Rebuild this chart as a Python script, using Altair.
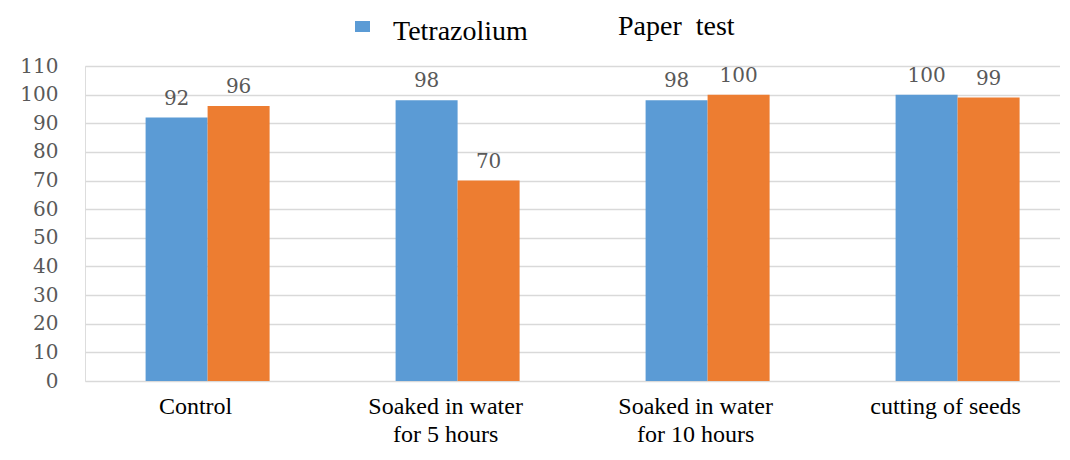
import altair as alt
import pandas as pd

categories = ["Control", "Soaked in water|for 5 hours", "Soaked in water|for 10 hours", "cutting of seeds"]
series = ["Tetrazolium", "Paper test"]
tetrazolium = [92, 98, 98, 100]
paper_test = [96, 70, 100, 99]
colors = ["#5b9bd5", "#ed7d31"]
y_ticks = list(range(0, 111, 10))

rows = []
for c, t, p in zip(categories, tetrazolium, paper_test):
    rows.append({"category": c, "series": series[0], "value": t})
    rows.append({"category": c, "series": series[1], "value": p})
df = pd.DataFrame(rows)

x_enc = alt.X(
    "category:N",
    sort=categories,
    scale=alt.Scale(paddingInner=0.504, paddingOuter=0.202, align=0.6),
    axis=alt.Axis(
        title=None,
        labelExpr="split(datum.label, '|')",
        labelAngle=0,
        labelFont="Liberation Serif",
        labelFontSize=24,
        labelLineHeight=28,
        labelColor="#000000",
        labelPadding=13,
        labelOffset=-12,
        domain=False,
        ticks=False,
        grid=False,
    ),
)
y_enc = alt.Y(
    "value:Q",
    scale=alt.Scale(domain=[0, 110], nice=False),
    axis=alt.Axis(
        title=None,
        values=y_ticks,
        labelFont="DejaVu Serif",
        labelFontSize=20,
        labelColor="#595959",
        labelPadding=27,
        domain=False,
        ticks=False,
        gridColor="#d9d9d9",
        gridWidth=1.5,
    ),
)
xoff = alt.XOffset("series:N", sort=series)
color = alt.Color("series:N", sort=series, scale=alt.Scale(domain=series, range=colors), legend=None)

base = alt.Chart(df)
bars = base.mark_bar().encode(x=x_enc, y=y_enc, xOffset=xoff, color=color)
labels = base.mark_text(
    baseline="bottom", dy=-9, font="DejaVu Serif", fontSize=20, color="#595959"
).encode(x=x_enc, y=y_enc, xOffset=xoff, text="value:Q")

leg_sq = alt.Chart(pd.DataFrame({"label": [series[0]]})).mark_rect(color=colors[0]).encode(
    x=alt.value(270), x2=alt.value(285), y=alt.value(-45), y2=alt.value(-34)
)
leg_t1 = alt.Chart(pd.DataFrame({"label": [series[0]]})).mark_text(
    align="left", baseline="middle", font="Liberation Serif", fontSize=28, color="#000000"
).encode(x=alt.value(308), y=alt.value(-34), text="label:N")
leg_t2 = alt.Chart(pd.DataFrame({"label": ["Paper\u00a0 test"]})).mark_text(
    align="left", baseline="middle", font="Liberation Serif", fontSize=28, color="#000000"
).encode(x=alt.value(533), y=alt.value(-39), text="label:N")

chart = alt.layer(bars, labels, leg_sq, leg_t1, leg_t2).properties(
    width=975,
    height=315,
    padding={"left": 77, "top": 58, "right": 0, "bottom": 70},
    autosize=alt.AutoSizeParams(type="none"),
).configure_view(stroke=None).configure(background="#ffffff")

chart.save("out.html", embed_options={"renderer": "svg", "actions": False})
